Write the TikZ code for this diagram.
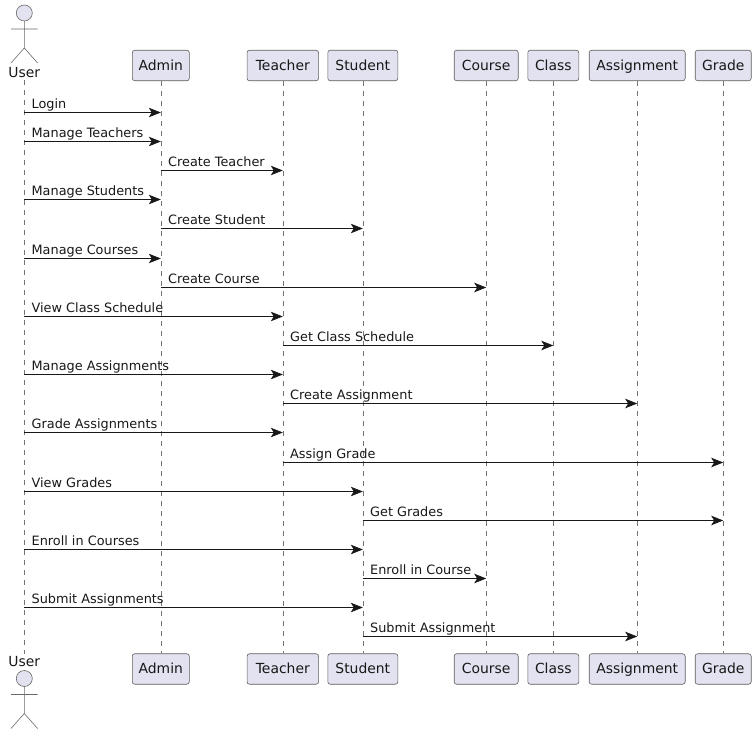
\documentclass[tikz,border=0pt]{standalone}
\usepackage{fontspec}
\setmainfont{DejaVu Sans}
\usetikzlibrary{arrows.meta,calc}
\definecolor{boxfill}{HTML}{E2E2F0}
\definecolor{ink}{HTML}{181818}
\tikzset{
  partbox/.style={draw=ink!70,line width=.6pt,fill=boxfill,rounded corners=2.5pt,
    minimum height=30.5pt,inner sep=0pt,text=ink,text height=11pt,text depth=2pt,
    font=\fontsize{13.9}{16}\selectfont},
  actorname/.style={inner sep=0pt,text=ink,minimum height=15pt,font=\fontsize{13.9}{16}\selectfont},
  actorline/.style={draw=ink!65,line width=.6pt},
  lifeline/.style={draw=ink!60,line width=.6pt,dash pattern=on 5pt off 5pt},
  msg/.style={draw=ink,line width=.7pt,-{Stealth[length=12pt,width=9.5pt,inset=3pt]}},
  msglabel/.style={pos=0,anchor=base west,xshift=7pt,yshift=4.5pt,inner sep=0pt,text=ink,
    font=\fontsize{12.85}{15}\selectfont}
}
\begin{document}
\begin{tikzpicture}[x=1pt,y=-1pt]
  \useasboundingbox (0,0) rectangle (756,734);
  % participants, top and bottom
  \foreach \name/\px/\boxw in {Admin/160.8/57,Teacher/282.8/71.5,Student/362.8/70,Course/486.2/64,
      Class/553.3/51,Assignment/637.2/96,Grade/723.2/56}{
    \node[partbox,minimum width=\boxw pt] (\name) at (\px,65.5) {\name};
    \node[partbox,minimum width=\boxw pt] (\name B) at (\px,669) {\name};
    \draw[lifeline] (\name) -- (\name B);
  }
  % actor
  \node[actorname] (User) at (24.3,72.5) {User};
  \node[actorname] (User B) at (24.3,662) {User};
  \draw[lifeline] (User) -- (User B);
  \foreach \hy in {13,678.5}{
    \draw[actorline,fill=boxfill] (24.3,\hy) circle (8);
    \draw[actorline] (24.3,\hy+8) -- (24.3,\hy+35)
      (11,\hy+16) -- (37.6,\hy+16)
      (11,\hy+50) -- (24.3,\hy+35) -- (37.6,\hy+50);
  }
  % messages
  \foreach \src/\dst/\py/\txt in {
      User/Admin/112.5/Login,
      User/Admin/141.5/Manage Teachers,
      Admin/Teacher/170.5/Create Teacher,
      User/Admin/199.5/Manage Students,
      Admin/Student/228.5/Create Student,
      User/Admin/258.5/Manage Courses,
      Admin/Course/287.5/Create Course,
      User/Teacher/316.5/View Class Schedule,
      Teacher/Class/345.5/Get Class Schedule,
      User/Teacher/374.5/Manage Assignments,
      Teacher/Assignment/403.5/Create Assignment,
      User/Teacher/432.5/Grade Assignments,
      Teacher/Grade/462.5/Assign Grade,
      User/Student/491.5/View Grades,
      Student/Grade/520.5/Get Grades,
      User/Student/549.5/Enroll in Courses,
      Student/Course/578.5/Enroll in Course,
      User/Student/607.5/Submit Assignments,
      Student/Assignment/636.5/Submit Assignment}{
    \coordinate (m1) at (\src |- 0,\py);
    \coordinate (m2) at (\dst |- 0,\py);
    \draw[msg] (m1) -- node[msglabel] {\txt} (m2);
  }
\end{tikzpicture}
\end{document}
